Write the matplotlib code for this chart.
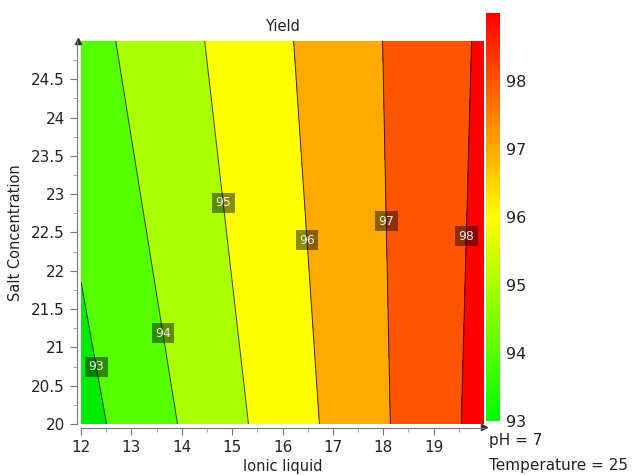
import matplotlib
matplotlib.use('Agg')
import matplotlib.pyplot as plt
import numpy as np
from matplotlib.colors import ListedColormap, LinearSegmentedColormap, BoundaryNorm, Normalize
from matplotlib.cm import ScalarMappable

# Response surface corner values (pH = 7, Temperature = 25)
ionic_liquid = [12, 20]
salt_conc = [20, 25]
yield_vals = [
    [92.64, 98.32],   # salt = 20
    [93.61, 98.14],   # salt = 25
]

# Contour levels and band colours
levels = [92, 93, 94, 95, 96, 97, 98, 99]
line_levels = [93, 94, 95, 96, 97, 98]
band_colors = ['#00eb00', '#55ff00', '#aaff00', '#ffff00', '#ffaa00', '#ff5500', '#ff0000']

# Where the contour labels sit
label_pos = [(12.35, 20.75), (13.8, 21.2), (14.95, 22.9), (16.55, 22.4), (18.1, 22.65), (19.66, 22.45)]

x_ticks = [12, 13, 14, 15, 16, 17, 18, 19]
y_ticks = [20, 20.5, 21, 21.5, 22, 22.5, 23, 23.5, 24, 24.5]
cbar_ticks = [93, 94, 95, 96, 97, 98]

X, Y = np.meshgrid(ionic_liquid, salt_conc)
Z = np.array(yield_vals)

fig = plt.figure(figsize=(6.33, 4.75), dpi=100)
ax = fig.add_axes([0.128, 0.1074, 0.6366, 0.8063])
cax = fig.add_axes([0.768, 0.1137, 0.0221, 0.8589])

cmap_bands = ListedColormap(band_colors)
norm_bands = BoundaryNorm(levels, cmap_bands.N)
ax.contourf(X, Y, Z, levels=levels, cmap=cmap_bands, norm=norm_bands)
cs = ax.contour(X, Y, Z, levels=line_levels, colors='k', linewidths=0.7, alpha=0.75)

labels = ax.clabel(cs, fmt='%d', inline=False, manual=label_pos, fontsize=9)
for t in labels:
    t.set_rotation(0)
    t.set_color('#f0f0f0')
    t.set_bbox(dict(facecolor='black', alpha=0.45, edgecolor='none', pad=2.5))

ax.set_xlim(12, 20)
ax.set_ylim(20, 25)
ax.set_xticks(x_ticks)
ax.set_yticks(y_ticks)
ax.set_xticks(np.arange(12, 20, 0.5), minor=True)
ax.set_yticks(np.arange(20, 25, 0.25), minor=True)
ax.set_yticklabels([f'{v:g}' for v in y_ticks])

for side in ['top', 'right']:
    ax.spines[side].set_visible(False)
for side in ['left', 'bottom']:
    ax.spines[side].set_position(('outward', 3))
    ax.spines[side].set_color('#777777')
ax.tick_params(which='major', length=5, color='#777777', labelsize=11, labelcolor='#222222')
ax.tick_params(which='minor', length=3, color='#999999')

# arrow heads on the axes
ax.plot(1.0, -0.008, '>', color='#333333', ms=5, transform=ax.transAxes, clip_on=False)
ax.plot(-0.0075, 1.0, '^', color='#333333', ms=5, transform=ax.transAxes, clip_on=False)

ax.set_title('Yield', fontsize=10.5, color='#222222', pad=7)
ax.set_xlabel('Ionic liquid', fontsize=10.5, color='#222222', labelpad=3)
ax.set_ylabel('Salt Concentration', fontsize=10.5, color='#222222', labelpad=6)

# continuous colour bar
grad = LinearSegmentedColormap.from_list('yield', [(0, '#00ff00'), (0.5, '#ffff00'), (1, '#ff0000')])
sm = ScalarMappable(norm=Normalize(93, 99), cmap=grad)
cb = fig.colorbar(sm, cax=cax, ticks=cbar_ticks)
cb.outline.set_visible(False)
cax.tick_params(length=0, labelsize=11.5, labelcolor='#222222', pad=4)

fig.text(0.772, 0.073, 'pH = 7', fontsize=11, color='#222222', va='center')
fig.text(0.772, 0.021, 'Temperature = 25', fontsize=11, color='#222222', va='center')

fig.savefig('out.png', dpi=100)
